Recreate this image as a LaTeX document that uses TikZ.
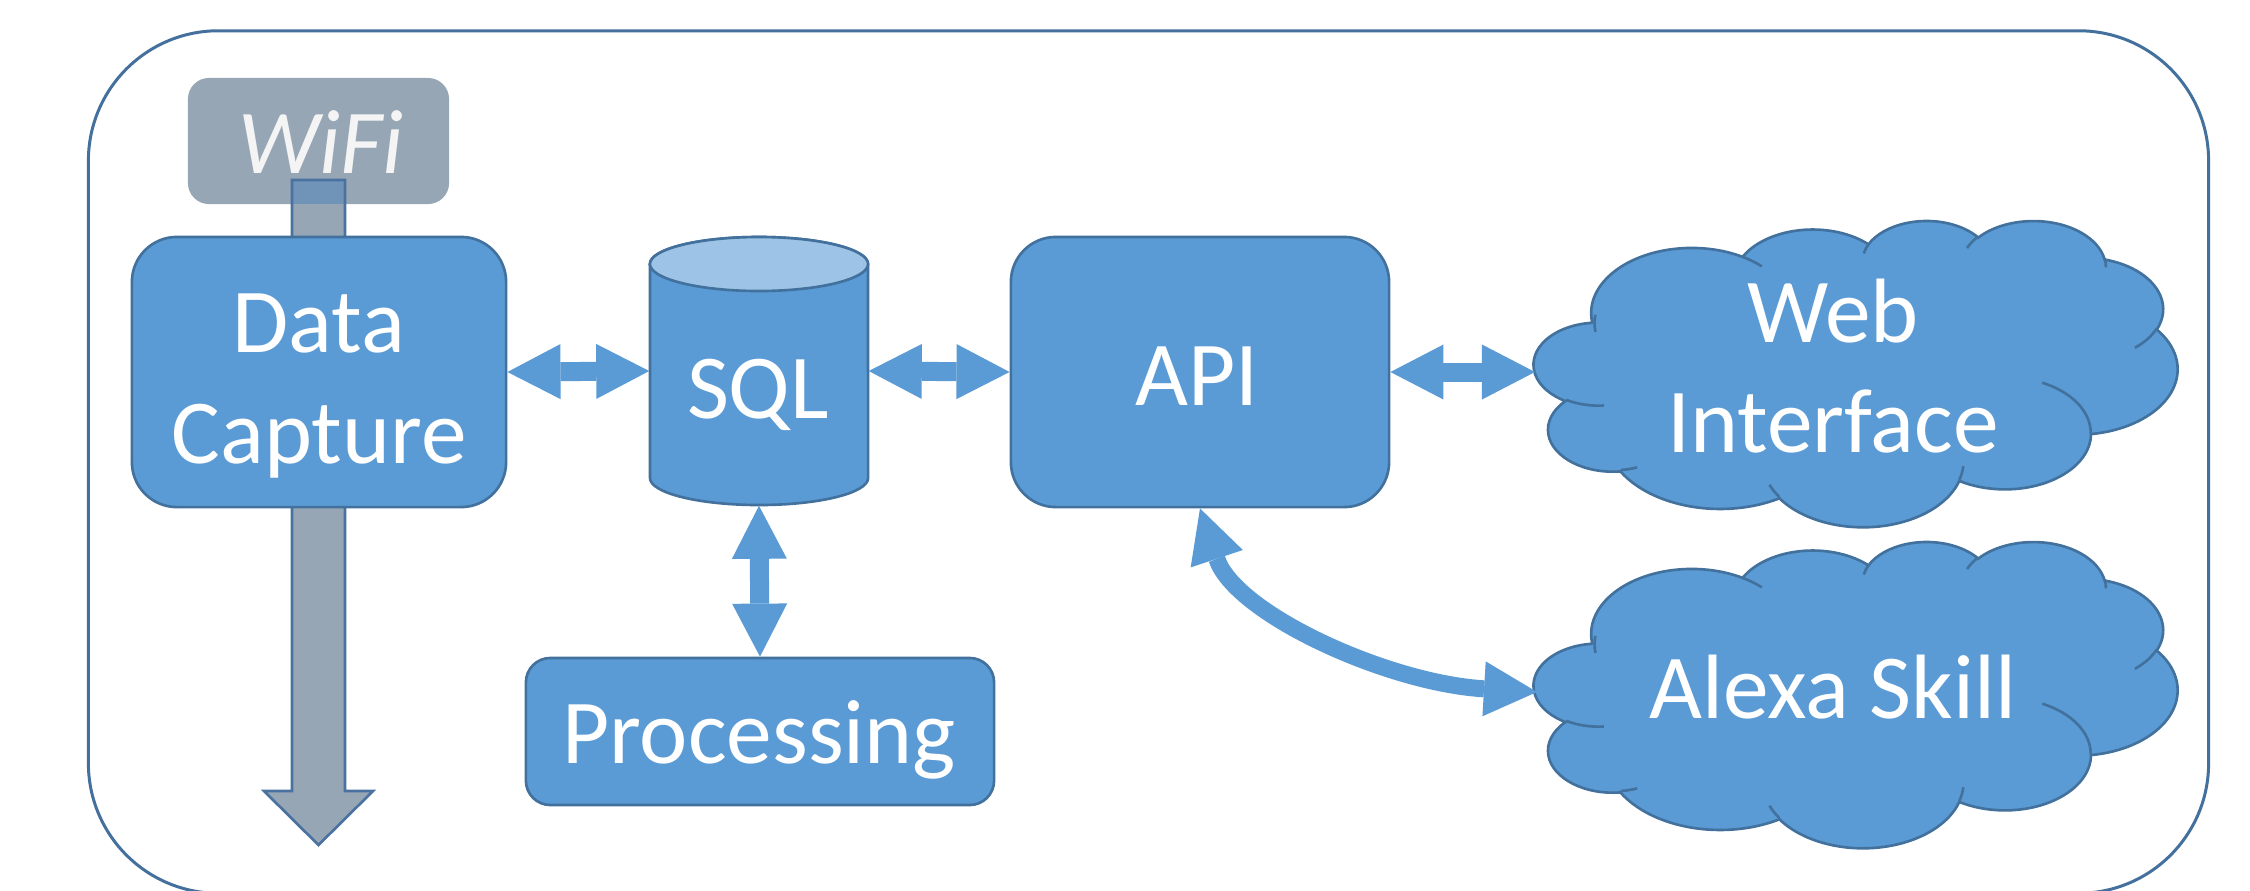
\documentclass[tikz,border=0pt]{standalone}
\usepackage{fontspec}
\setmainfont{Carlito}
\usetikzlibrary{arrows.meta}

\definecolor{boxblue}{HTML}{5B9BD5}
\definecolor{boxedge}{HTML}{41719C}
\definecolor{cantop}{HTML}{9DC3E6}
\definecolor{radiogray}{HTML}{97A6B5}
\definecolor{radioedge}{HTML}{4A72A0}
\definecolor{overlap}{HTML}{7094B8}
\definecolor{frameedge}{HTML}{44709D}
\definecolor{wifitext}{HTML}{F4F4F4}

% elliptical arc given by radii, visual start angle and sweep (degrees)
\newcommand\carc[4]{arc[x radius=#1pt, y radius=#2pt,
  start angle={atan2(#1*sin(#3),#2*cos(#3))},
  delta angle={Mod(atan2(#1*sin(#3+#4),#2*cos(#3+#4))-atan2(#1*sin(#3),#2*cos(#3)),360)}]}

% cloud outline in a 432pt x 432pt box
\newcommand\cloudoutline{(39pt,143.7pt)
 \carc{67.53}{91.90}{-190.48748}{123.78053}
 \carc{53.33}{72.67}{-144.10238}{89.94523}
 \carc{43.65}{59.45}{-145.80792}{99.72302}
 \carc{48.57}{65.95}{-130.98607}{117.24173}
 \carc{53.33}{72.73}{-78.70888}{109.02692}
 \carc{67.75}{92.20}{-46.26725}{130.269}
 \carc{57.85}{78.67}{0.62502}{114.03333}
 \carc{67.52}{92.15}{22.4516}{115.17255}
 \carc{77.20}{105.43}{66.24263}{75.71102}
 \carc{43.60}{59.18}{-274.94208}{146.73557}
 \carc{43.45}{59.45}{-246.8285}{152.51885} -- cycle}

% short inner creases of the cloud
\newcommand\cloudcreases{
 (46.93pt,261.77pt) \carc{43.45}{59.45}{86.742}{26.4295}
 (69.28pt,348.99pt) \carc{43.60}{59.18}{73.61047}{11.44747}
 (164.78pt,390.90pt) \carc{67.52}{92.15}{137.62415}{14.0811}
 (288.27pt,347.51pt) \carc{67.52}{92.15}{6.45327}{15.99835}
 (341.29pt,229.54pt) \carc{57.85}{78.67}{-70.29235}{70.91737}
 (417.98pt,153.54pt) \carc{53.33}{72.73}{30.31803}{27.7515}
 (383.24pt,54.26pt) \carc{48.57}{65.95}{-13.74433}{14.8589}
 (290.78pt,39.52pt) \carc{48.57}{65.95}{-149.18145}{18.19537}
 (221.41pt,47.20pt) \carc{43.65}{59.45}{-163.49427}{17.68635}
 (140.00pt,51.92pt) \carc{67.53}{91.90}{-66.70695}{12.31935}
 (41.27pt,157.89pt) \carc{67.53}{91.90}{-190.48748}{20.4493}}

\begin{document}
\begin{tikzpicture}[x=0.01cm, y=-0.01cm,
  box/.style={draw=boxedge, fill=boxblue, line width=0.75pt},
  crease/.style={draw=boxedge, line width=0.75pt},
  lbl/.style={text=white, font=\fontsize{26}{31.3}\selectfont, inner sep=0pt},
  dbl/.style={draw=boxblue, line width=0.19cm,
    {Triangle[length=0.53cm,width=0.55cm,line width=0pt]}-{Triangle[length=0.53cm,width=0.55cm,line width=0pt]}},
  cloudbox/.style={xscale=0.4235, yscale=-0.20154}]
\clip (0,0) rectangle (2250,890);
\fill[white] (0,0) rectangle (2250,890);

% outer frame
\node[draw=frameedge, line width=0.85pt, rounded corners=1.3cm,
  minimum width=21.19cm, minimum height=8.62cm, inner sep=0pt] (frame) at (1148.5,462) {};

% WiFi label
\node[fill=radiogray, rounded corners=0.21cm, minimum width=2.61cm,
  minimum height=1.26cm, inner sep=0pt] (wifi) at (318.5,141) {};
\node[lbl, text=wifitext, anchor=base, font=\fontsize{26}{31.3}\selectfont\itshape]
  (wifitxt) at (321,173) {WiFi};

% grey downward arrow through the capture unit
\coordinate (gtip) at (318.5,845);
\fill[radiogray] (292,180) -- (292,791) -- (264,791) -- (gtip) -- (373,791)
  -- (345,791) -- (345,180) -- cycle;
\fill[overlap] (292,180) rectangle (345,204);
\draw[radioedge, line width=0.75pt] (292,180) -- (292,791) -- (264,791) -- (gtip)
  -- (373,791) -- (345,791) -- (345,180) -- cycle;

% Data Capture
\node[box, rounded corners=0.45cm, minimum width=3.74cm, minimum height=2.70cm,
  inner sep=0pt] (dc) at (319,372) {};
\node[lbl, align=center] (dctxt) at (319,386) {Data\\Capture};

% SQL database
\node[minimum width=2.18cm, minimum height=2.68cm, inner sep=0pt] (sql) at (759,371) {};
\draw[box] (650,264) -- (650,478)
  arc[start angle=180, end angle=360, x radius=1.09cm, y radius=0.27cm]
  -- (868,264)
  arc[start angle=0, end angle=180, x radius=1.09cm, y radius=0.27cm] -- cycle;
\draw[box, fill=cantop] (759,264) ellipse [x radius=1.09cm, y radius=0.27cm];
\node[lbl, anchor=base] (sqltxt) at (758,418) {SQL};

% API
\node[box, rounded corners=0.45cm, minimum width=3.78cm, minimum height=2.70cm,
  inner sep=0pt] (api) at (1200,372) {};
\node[lbl, anchor=base] (apitxt) at (1197,405) {API};

% Processing
\node[box, rounded corners=0.245cm, minimum width=4.68cm, minimum height=1.47cm,
  inner sep=0pt] (proc) at (760,731.5) {};
\node[lbl, anchor=base] (proctxt) at (759,763) {Processing};

% Web Interface cloud
\begin{scope}[shift={(1534,220)}, cloudbox]
  \draw[box] \cloudoutline;
  \draw[crease] \cloudcreases;
\end{scope}
\coordinate (webW) at (1535,372);
\node[lbl, align=center] (web) at (1833,366) {Web\\Interface};

% Alexa Skill cloud
\begin{scope}[shift={(1534,541)}, cloudbox]
  \draw[box] \cloudoutline;
  \draw[crease] \cloudcreases;
\end{scope}
\coordinate (alexaW) at (1537,692);
\node[lbl, anchor=base] (alexa) at (1833,718) {Alexa Skill};

% connectors
\draw[dbl] (dc.east) -- (sql.west);
\draw[dbl] (sql.east) -- (api.west);
\draw[dbl] (api.east) -- (webW);
\draw[dbl] (sql.south) -- (proc.north);
\draw[dbl, line width=0.17cm] (api.south) .. controls +(35,105) and +(-150,-9) .. (alexaW);
\end{tikzpicture}
\end{document}
